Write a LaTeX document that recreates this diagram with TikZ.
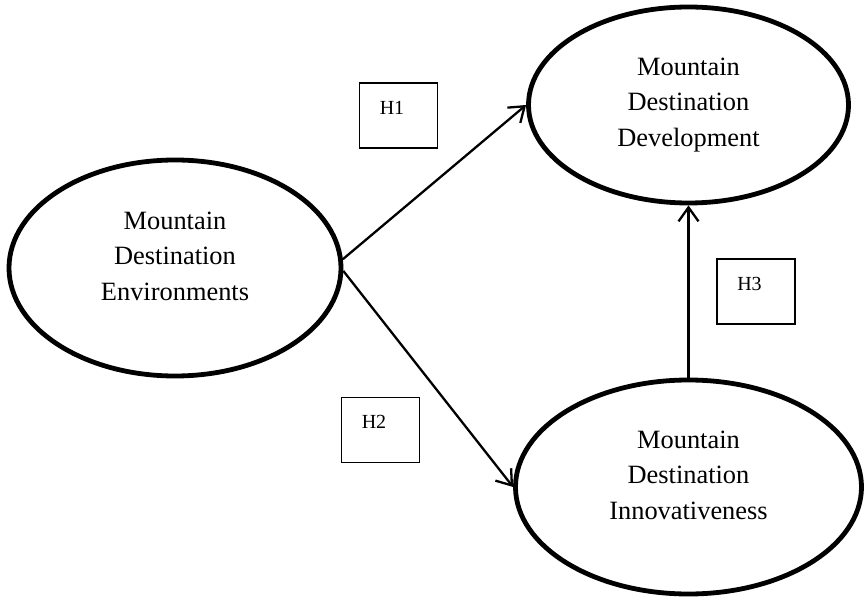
\documentclass[tikz,border=0pt]{standalone}
\usepackage{fontspec}
\setmainfont{Liberation Serif}
\usetikzlibrary{shapes.geometric,arrows.meta}
\begin{document}
\begin{tikzpicture}[x=1pt,y=-1pt,
  latent/.style={ellipse, draw, line width=4.8pt, inner sep=0pt},
  lbltxt/.style={align=center, font=\fontsize{26.4}{35.5}\selectfont, inner sep=0pt},
  hbox/.style={draw, line width=1.1pt, inner sep=0pt, minimum width=78pt, minimum height=65pt},
  htxt/.style={font=\fontsize{20}{22}\selectfont, inner sep=0pt},
  relpath/.style={line width=2.3pt, -{Straight Barb[length=14pt,width=20pt]}}]
\useasboundingbox (0,0) rectangle (865,601);
\fill[white] (0,0) rectangle (865,601);

\node[latent, minimum width=332pt, minimum height=216pt] (env) at (175,268) {};
\node[latent, minimum width=320pt, minimum height=196pt] (dev) at (688.5,105) {};
\node[latent, minimum width=346pt, minimum height=214pt] (inn) at (688.5,487) {};

\node[lbltxt] (envt) at ([yshift=12pt]env.center) {Mountain\\Destination\\Environments};
\node[lbltxt] (devt) at ([yshift=0pt]dev.center) {Mountain\\Destination\\Development};
\node[lbltxt] (innt) at ([yshift=12pt]inn.center) {Mountain\\Destination\\Innovativeness};

\node[hbox] (b1) at (398.5,115.5) {};
\node[hbox] (b2) at (380.5,430) {};
\node[hbox] (b3) at (756,291.5) {};
\node[htxt] (h1) at ([xshift=-6.5pt,yshift=8pt]b1.center) {H1};
\node[htxt] (h2) at ([xshift=-6.5pt,yshift=8pt]b2.center) {H2};
\node[htxt] (h3) at ([xshift=-6.5pt,yshift=8pt]b3.center) {H3};

\draw[relpath] (env.3) -- (dev.west);
\draw[relpath] (env.-1) -- (inn.west);
\draw[relpath] (inn.north) -- (dev.south);
\end{tikzpicture}
\end{document}
